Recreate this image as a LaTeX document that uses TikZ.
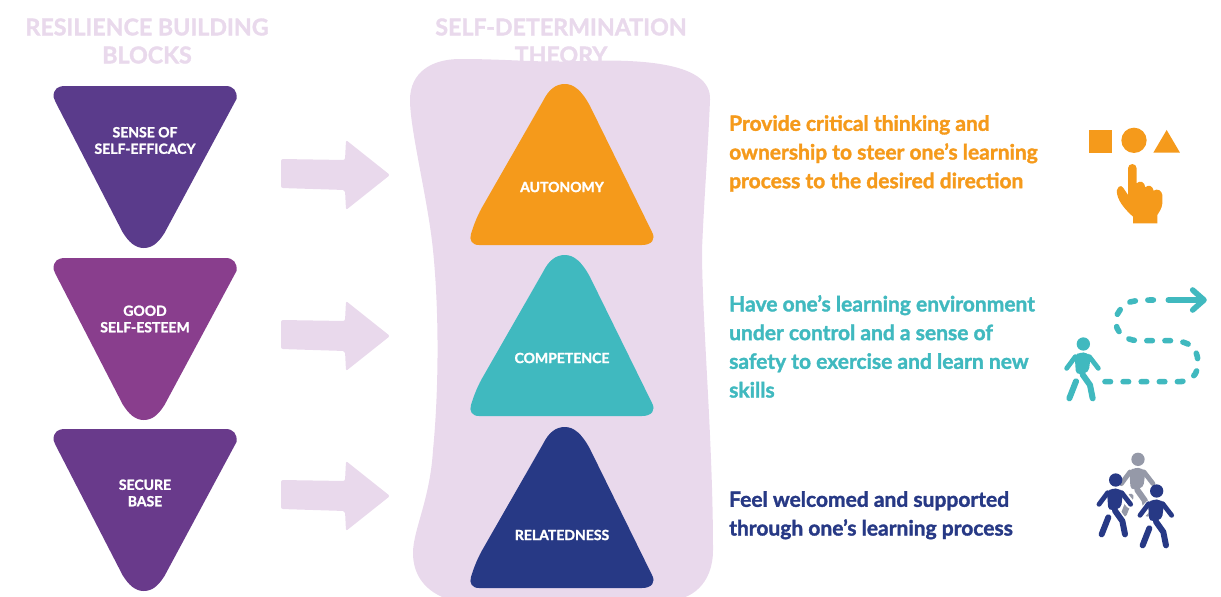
\documentclass[tikz,border=0pt]{standalone}
\usepackage{fontspec}
\setmainfont{Lato}[BoldFeatures={FakeBold=1.6}]
\definecolor{orangeblock}{HTML}{F59A1B}
\definecolor{tealblock}{HTML}{40B9BF}
\definecolor{navyblock}{HTML}{273985}
\definecolor{purpleone}{HTML}{5A3B8B}
\definecolor{purpletwo}{HTML}{893E8D}
\definecolor{purplethree}{HTML}{693A8B}
\definecolor{lilac}{HTML}{E9D9EC}
\definecolor{walkergray}{HTML}{9599A8}
\tikzset{
    heading/.style={text=lilac, font=\fontsize{23.2}{28}\selectfont\bfseries, align=center, inner sep=0pt},
    blocklabel/.style={text=white, font=\fontsize{14}{16.5}\selectfont\bfseries, align=center, inner sep=0pt},
    bodytext/.style={anchor=north west, align=left, inner sep=0pt, font=\fontsize{21}{28.7}\selectfont\bfseries},
    iconpx/.style={x=0.3333pt, y=-0.3333pt},
    pics/blockdown/.style={code={
        \fill[#1] (-92,11) .. controls (-92,3) and (-88,0) .. (-80,0) -- (80,0)
            .. controls (88,0) and (92,5) .. (91,13) -- (19,147)
            .. controls (12,158) and (6,162) .. (-2,162)
            .. controls (-10,162) and (-17,156) .. (-23,146) -- (-90,16) -- cycle;
    }},
    pics/blockup/.style={code={
        \fill[#1] (-19,17) .. controls (-13,5) and (-6,0) .. (3,0)
            .. controls (12,0) and (20,7) .. (28,22) -- (90,148)
            .. controls (94,155) and (90,161) .. (80,161) -- (-83,161)
            .. controls (-90,161) and (-93,156) .. (-91,150)
            .. controls (-88,140) and (-84,130) .. (-78,120) -- cycle;
    }},
    pics/bigarrow/.style={code={
        \fill[lilac, rounded corners=2pt] (0,19) -- (64,20) -- (65,0) -- (109,35) -- (65,70) -- (64,50) -- (0,48) -- cycle;
    }},
    pics/person/.style={code={
        \begin{scope}[iconpx, line cap=round, line join=round]
            \draw[white, line width=9pt] (-20,40) -- (-50,73) (18,40) -- (45,73) (-22,105) -- (-42,163) (0,95) -- (20,123) -- (28,163);
            \fill[#1] (0,0) circle (20);
            \fill[#1, rounded corners=4pt] (-26,34) -- (-10,25) -- (12,26) -- (22,38) -- (16,85) -- (-22,92) -- cycle;
            \draw[#1, line width=4.8pt] (-24,38) -- (-50,73) (18,38) -- (45,73);
            \draw[#1, line width=6pt] (-22,112) -- (-42,163) (-2,92) -- (20,123) -- (28,163);
        \end{scope}
    }}
}
\begin{document}
\begin{tikzpicture}[x=1pt, y=-1pt]
    \clip (0,0) rectangle (1221,597);

    % headings
    \node[heading] (resilience) at (147,41) {RESILIENCE BUILDING\\BLOCKS};
    \node[heading] (selfdet) at (561,41) {SELF-DETERMINATION\\THEORY};

    % backdrop
    \fill[lilac] (410,100) .. controls (410,72) and (432,59) .. (460,59)
        .. controls (510,59) and (540,63) .. (580,61)
        .. controls (640,59) and (712,62) .. (710,100)
        .. controls (708,150) and (704,200) .. (702,250)
        .. controls (702,320) and (713,440) .. (713,550)
        .. controls (713,585) and (690,600) .. (670,600) -- (450,600)
        .. controls (425,592) and (413,575) .. (413,553)
        .. controls (413,530) and (430,500) .. (433,450)
        .. controls (438,400) and (440,320) .. (433,250)
        .. controls (428,200) and (410,130) .. (410,100) -- cycle;

    % left column
    \pic (down1) at (145.5,86) {blockdown=purpleone};
    \pic (down2) at (145.5,258) {blockdown=purpletwo};
    \pic (down3) at (145.5,429) {blockdown=purplethree};
    \node[blocklabel] (efficacy) at (145,140.5) {SENSE OF\\SELF-EFFICACY};
    \node[blocklabel] (esteem) at (145,319) {GOOD\\SELF-ESTEEM};
    \node[blocklabel] (base) at (145,493) {SECURE\\BASE};

    % arrows
    \pic (arrow1) at (281,140) {bigarrow};
    \pic (arrow2) at (281,301) {bigarrow};
    \pic (arrow3) at (281,461) {bigarrow};

    % middle column
    \pic (up1) at (562,84) {blockup=orangeblock};
    \pic (up2) at (562,255) {blockup=tealblock};
    \pic (up3) at (562,427) {blockup=navyblock};
    \node[blocklabel] (autonomy) at (562,187) {AUTONOMY};
    \node[blocklabel] (competence) at (562,358) {COMPETENCE};
    \node[blocklabel] (relatedness) at (562,535) {RELATEDNESS};

    % right column
    \node[bodytext, text=orangeblock] (provide) at (729,115) {Provide critical thinking and\\ownership to steer one’s learning\\process to the desired direction};
    \node[bodytext, text=tealblock] (have) at (729,295) {Have one’s learning environment\\under control and a sense of\\safety to exercise and learn new\\skills};
    \node[bodytext, text=navyblock] (feel) at (729,491) {Feel welcomed and supported\\through one’s learning process};

    % shapes and hand
    \begin{scope}[shift={(1040,100)}, iconpx, orangeblock]
        \fill (147,90) rectangle (216,159);
        \fill (282,121) circle (38);
        \fill (340,158) -- (380,90) -- (420,158) -- cycle;
        \fill (264,205) .. controls (264,188) and (290,188) .. (290,205) -- (290,250)
            .. controls (300,240) and (314,245) .. (316,262)
            .. controls (326,252) and (338,258) .. (341,272)
            .. controls (352,264) and (366,272) .. (367,285) -- (367,310)
            .. controls (366,325) and (358,335) .. (352,345) -- (352,370) -- (279,370) -- (279,350)
            .. controls (255,328) and (238,308) .. (232,285)
            .. controls (225,262) and (244,250) .. (250,264) -- (264,285) -- cycle;
    \end{scope}

    % dotted route with walker
    \begin{scope}[shift={(1040,270)}, iconpx, tealblock, line cap=round, line join=round]
        \pic at (130,222) {person=tealblock};
        \draw[line width=5.6pt, dash pattern=on 5.5pt off 12.6pt] (195,335) -- (415,335)
            .. controls (465,335) and (480,300) .. (472,260)
            .. controls (465,222) and (430,212) .. (390,212) -- (290,212)
            .. controls (225,205) and (215,150) .. (240,120)
            .. controls (255,95) and (275,90) .. (345,90);
        \draw[line width=5.6pt] (385,90) -- (490,90);
        \draw[line width=5.6pt] (458,60) -- (492,90) -- (458,120);
    \end{scope}

    % three walkers
    \begin{scope}[shift={(1070,440)}, iconpx]
        \pic at (204,58) {person=walkergray};
        \pic at (137,120) {person=navyblock};
        \pic at (260,153) {person=navyblock};
    \end{scope}
\end{tikzpicture}
\end{document}
